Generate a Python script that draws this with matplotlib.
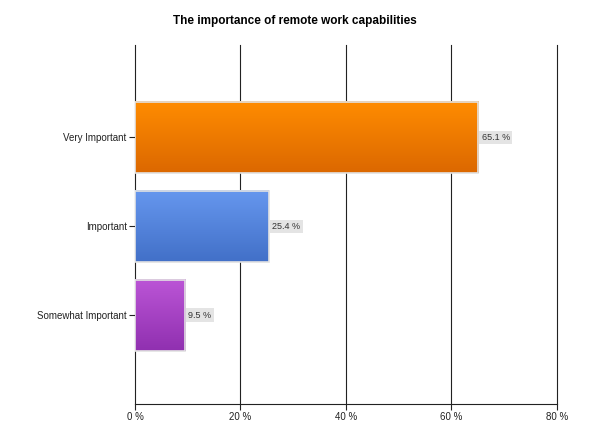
import numpy as np
import matplotlib
matplotlib.use("Agg")
import matplotlib.pyplot as plt
from matplotlib.colors import LinearSegmentedColormap

plt.rcParams['font.family'] = ['Liberation Sans', 'DejaVu Sans']

# 数据
categories = ["Very Important", "Important", "Somewhat Important"]
values = [65.1, 25.4, 9.5]
x_ticks = [0, 20, 40, 60, 80]
# 渐变色 (顶部, 底部)
bar_colors = [("#ff8c00", "#dc6800"), ("#6697ee", "#4270c8"), ("#bb55d6", "#9030b0")]

fig = plt.figure(figsize=(5.9, 4.42), dpi=100)
ax = fig.add_axes([0.2288, 0.086, 0.7152, 0.812])

ypos = np.arange(len(categories))
h = 0.8
for y, v, (c_top, c_bot) in zip(ypos, values, bar_colors):
    cmap = LinearSegmentedColormap.from_list("g", [c_top, c_bot])
    grad = np.linspace(0, 1, 64).reshape(-1, 1)
    ax.imshow(grad, cmap=cmap, aspect="auto", origin="upper",
              extent=[0, v, y + h / 2, y - h / 2], zorder=3)
    ax.barh(y, v, height=h, facecolor="none", edgecolor="#e2e2e2", linewidth=1.2, zorder=4)
    ax.text(v + 0.6, y, "%.1f %%" % v, fontsize=6.5, va="center", ha="left", color="#333333",
            bbox=dict(boxstyle="square,pad=0.25", facecolor="#e4e4e4", edgecolor="none"), zorder=5)

ax.set_xlim(0, 80)
ax.set_ylim(3.0, -1.04)
ax.set_xticks(x_ticks)
ax.set_xticklabels(["%d %%" % t for t in x_ticks], fontsize=7)
ax.set_yticks(ypos)
ax.set_yticklabels(categories, fontsize=7)
ax.tick_params(axis="both", direction="out", length=4, width=0.8, colors="#222222", pad=2)
# 竖直网格线 (包括 80% 处)
for t in x_ticks[1:]:
    ax.axvline(t, color="#222222", linewidth=0.8, zorder=1, clip_on=False)
for s in ["top", "right"]:
    ax.spines[s].set_visible(False)
for s in ["left", "bottom"]:
    ax.spines[s].set_linewidth(0.8)
    ax.spines[s].set_color("#222222")

fig.text(0.5, 0.953, "The importance of remote work capabilities", ha="center", va="center",
         fontsize=8.5, fontweight="bold")

fig.savefig("out.png", dpi=100)
